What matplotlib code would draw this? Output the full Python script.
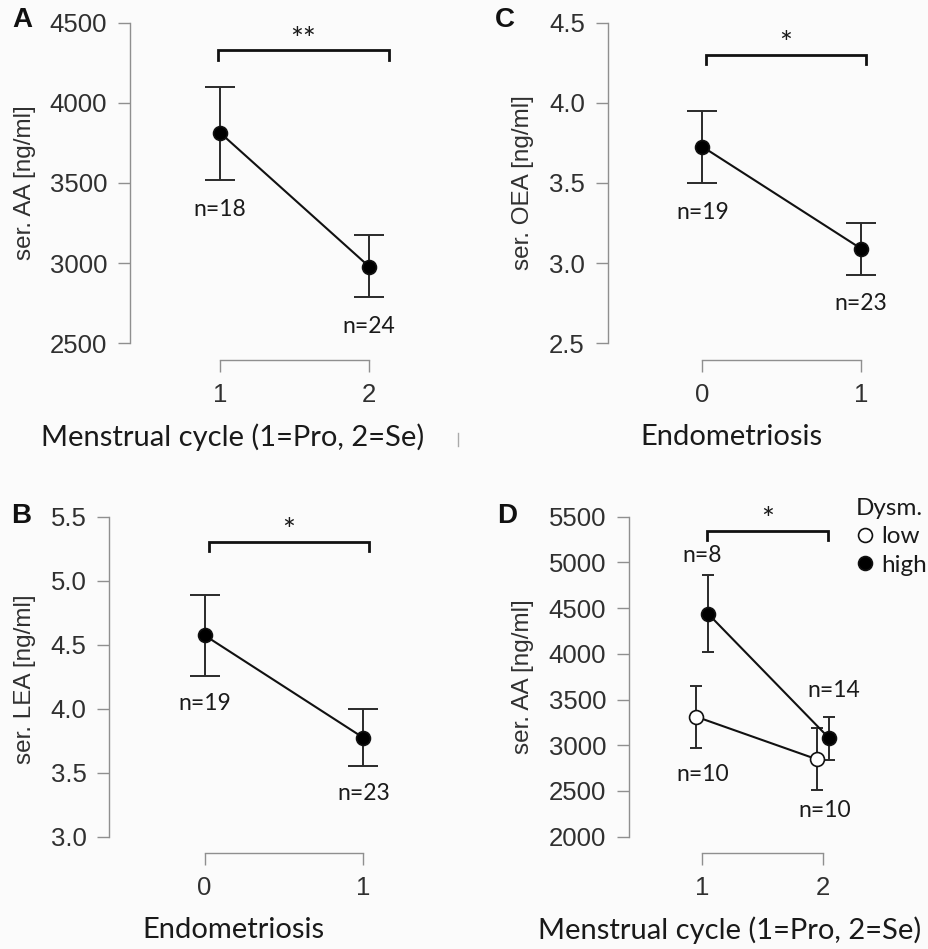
import numpy as np
import matplotlib
matplotlib.use("Agg")
import matplotlib.pyplot as plt
from matplotlib.lines import Line2D

W, H = 929, 949

# ---- data ----
# A: serum AA by menstrual cycle phase
cycle = [1, 2]
aa_mean = [3814, 2979]
aa_lo = [3519, 2788]
aa_hi = [4101, 3174]
aa_n = [18, 24]

# C: serum OEA by endometriosis
endo = [0, 1]
oea_mean = [3.727, 3.091]
oea_lo = [3.50, 2.929]
oea_hi = [3.95, 3.253]
oea_n = [19, 23]

# B: serum LEA by endometriosis
lea_mean = [4.573, 3.773]
lea_lo = [4.256, 3.552]
lea_hi = [4.89, 3.995]
lea_n = [19, 23]

# D: serum AA by cycle, split by dysmenorrhea
low_mean = [3312, 2845]
low_lo = [2973, 2510]
low_hi = [3648, 3185]
low_n = [10, 10]
high_mean = [4435, 3075]
high_lo = [4016, 2838]
high_hi = [4862, 3312]
high_n = [8, 14]

yticks_A = [2500, 3000, 3500, 4000, 4500]
yticks_C = [2.5, 3.0, 3.5, 4.0, 4.5]
yticks_B = [3.0, 3.5, 4.0, 4.5, 5.0, 5.5]
yticks_D = [2000, 2500, 3000, 3500, 4000, 4500, 5000, 5500]

TICK_FONT = "Liberation Sans"
TEXT_FONT = "Lato"
GREY = "#8f8f8f"
INK = "#1a1a1a"

plt.rcParams["font.family"] = [TICK_FONT, "DejaVu Sans"]

fig = plt.figure(figsize=(W / 100, H / 100), dpi=100, facecolor="#fbfbfb")


def px_axes(left, top, right, bottom):
    return fig.add_axes([left / W, 1 - bottom / H, (right - left) / W, (bottom - top) / H])


def style(ax, xticks, yticks, xlim, xlabel, ylabel, xl_pos, yl_pos):
    ax.set_xlim(*xlim)
    ax.set_ylim(yticks[0], yticks[-1])
    ax.patch.set_alpha(0)
    for s in ["top", "right"]:
        ax.spines[s].set_visible(False)
    for s in ["left", "bottom"]:
        ax.spines[s].set_color(GREY)
        ax.spines[s].set_linewidth(1.0)
    ax.spines["bottom"].set_position(("outward", 12))
    ax.spines["bottom"].set_bounds(xticks[0], xticks[-1])
    ax.set_xticks(xticks)
    ax.set_yticks(yticks)
    ax.set_xticklabels([str(t) for t in xticks])
    ax.set_yticklabels([f"{t:g}" if t >= 100 else f"{t:.1f}" for t in yticks])
    ax.tick_params(axis="both", length=8.5, width=1.0, color=GREY, pad=8,
                   labelsize=18.5, labelcolor="#303030")
    ax.set_xlabel(xlabel, fontsize=21, family=TEXT_FONT, color=INK, va="center")
    ax.set_ylabel(ylabel, fontsize=17.5, family=TICK_FONT, color="#303030", va="center")
    x0, y0, w, h = ax.get_position().bounds
    lx, ly = xl_pos
    ax.xaxis.set_label_coords((lx / W - x0) / w, ((1 - ly / H) - y0) / h)
    lx, ly = yl_pos
    ax.yaxis.set_label_coords((lx / W - x0) / w, ((1 - ly / H) - y0) / h)


def draw_series(ax, xs, mean, lo, hi, face="black", cap=10.5):
    m = np.array(mean)
    err = [m - np.array(lo), np.array(hi) - m]
    ax.errorbar(xs, mean, yerr=err, fmt="none", ecolor="#2a2a2a", elinewidth=1.4,
                capsize=cap, capthick=1.4, zorder=2, clip_on=False)
    ax.plot(xs, mean, color="#111111", lw=1.5, zorder=3, clip_on=False)
    ax.plot(xs, mean, "o", ms=10, mfc=face, mec="#111111", mew=1.2, zorder=4, clip_on=False)


def n_label(ax, x, y, n, dy):
    ax.annotate(f"n={n}", (x, y), xytext=(0, dy), textcoords="offset points",
                ha="center", va="center", fontsize=16.5, family=TEXT_FONT, color=INK)


def bracket(ax, x0, x1, ytop, ydrop, stars):
    ax.plot([x0, x0, x1, x1], [ydrop, ytop, ytop, ydrop], color="#111111", lw=2.0,
            solid_joinstyle="miter", clip_on=False)
    ax.annotate(stars, ((x0 + x1) / 2, ytop), xytext=(0, 7.5), textcoords="offset points",
                ha="center", va="center", fontsize=22, family=TEXT_FONT, color=INK)


# ---- panel A ----
axA = px_axes(130, 22.7, 420, 343.3)
style(axA, cycle, yticks_A, (0.396, 2.342), "Menstrual cycle (1=Pro, 2=Se)",
      "ser. AA [ng/ml]", (233, 437), (25, 183))
draw_series(axA, cycle, aa_mean, aa_lo, aa_hi)
for x, lo, n in zip(cycle, aa_lo, aa_n):
    n_label(axA, x, lo, n, -21)
bracket(axA, 0.985, 2.132, 4330, 4270, "**")

# ---- panel C ----
axC = px_axes(607.7, 22.7, 900, 343.3)
style(axC, endo, yticks_C, (-0.596, 1.246), "Endometriosis",
      "ser. OEA [ng/ml]", (731.7, 436.7), (523, 183))
draw_series(axC, endo, oea_mean, oea_lo, oea_hi)
for x, lo, n in zip(endo, oea_lo, oea_n):
    n_label(axC, x, lo, n, -21)
bracket(axC, 0.021, 1.03, 4.30, 4.24, "*")

# ---- panel B ----
axB = px_axes(109.3, 516.7, 420, 836.7)
style(axB, endo, yticks_B, (-0.601, 1.357), "Endometriosis",
      "ser. LEA [ng/ml]", (233, 930), (25, 679))
draw_series(axB, endo, lea_mean, lea_lo, lea_hi)
for x, lo, n in zip(endo, lea_lo, lea_n):
    n_label(axB, x, lo, n, -20)
bracket(axB, 0.029, 1.033, 5.305, 5.23, "*")

# ---- panel D ----
axD = px_axes(629, 516.7, 900, 836.7)
style(axD, cycle, yticks_D, (0.394, 2.634), "Menstrual cycle (1=Pro, 2=Se)",
      "ser. AA [ng/ml]", (730, 930), (523.3, 676.7))
dodge = 0.05
xs_low = [c - dodge for c in cycle]
xs_high = [c + dodge for c in cycle]
draw_series(axD, xs_low, low_mean, low_lo, low_hi, face="white", cap=4.5)
draw_series(axD, xs_high, high_mean, high_lo, high_hi, face="black", cap=4.5)
n_label(axD, cycle[0], low_lo[0], low_n[0], -19)
n_label(axD, cycle[1] + 0.01, low_lo[1], low_n[1], -15)
n_label(axD, cycle[0], high_hi[0], high_n[0], 14)
n_label(axD, cycle[1] + 0.09, high_hi[1], high_n[1], 19)
bracket(axD, 1.036, 2.041, 5347, 5245, "*")

handles = [
    Line2D([], [], ls="none", marker="o", ms=10, mfc="white", mec="#111111", mew=1.2),
    Line2D([], [], ls="none", marker="o", ms=10, mfc="black", mec="#111111", mew=1.2),
]
leg = axD.legend(handles, ["low", "high"], title="Dysm.", loc="upper left",
                 bbox_to_anchor=(0.838, 1.058), frameon=False, handlelength=0.75,
                 handletextpad=0.3, labelspacing=0.3, borderpad=0, borderaxespad=0,
                 alignment="left", prop={"family": TEXT_FONT, "size": 17.5})
leg.get_title().set_fontfamily(TEXT_FONT)
leg.get_title().set_fontsize(17.5)
leg.get_title().set_color(INK)
for t in leg.get_texts():
    t.set_color(INK)

# panel letters
for letter, (x, y) in {"A": (22, 20), "C": (505, 20), "B": (21, 516), "D": (507, 516)}.items():
    fig.text(x / W, 1 - y / H, letter, ha="center", va="center", fontsize=20,
             fontweight="bold", family=TICK_FONT, color="#111111")

# stray scan mark between the top panels
fig.add_artist(Line2D([458 / W, 458 / W], [1 - 433 / H, 1 - 446 / H], color="#aaaaaa", lw=1))

fig.savefig("out.png", dpi=100, facecolor=fig.get_facecolor())
